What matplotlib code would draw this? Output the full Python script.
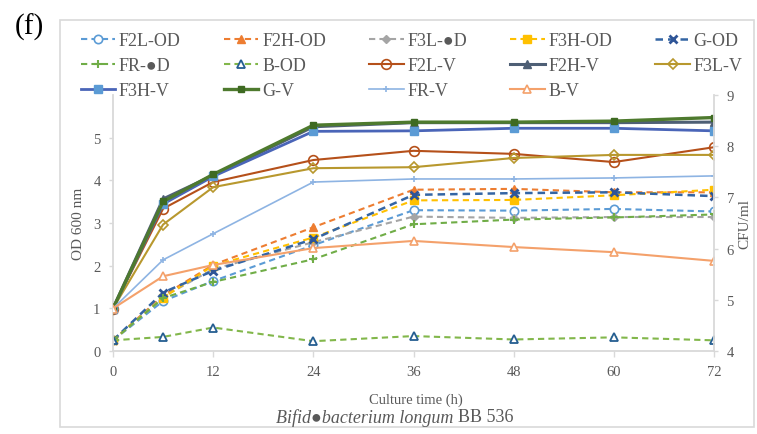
import matplotlib
matplotlib.use("Agg")
import matplotlib.pyplot as plt
from matplotlib.patches import Rectangle

plt.rcParams['font.family'] = ['Liberation Serif', 'DejaVu Sans']

# ---- data ----
times = [0, 6, 12, 24, 36, 48, 60, 72]
x_ticks = [0, 12, 24, 36, 48, 60, 72]
left_ticks = [0, 1, 2, 3, 4, 5]
right_ticks = [4, 5, 6, 7, 8, 9]

# OD600 (left axis)
F2L_OD = [0.25, 1.17, 1.64, 2.48, 3.30, 3.29, 3.33, 3.27]
F2H_OD = [0.25, 1.30, 2.02, 2.90, 3.78, 3.80, 3.72, 3.72]
F3L_OD = [0.25, 1.27, 1.92, 2.55, 3.15, 3.12, 3.14, 3.14]
F3H_OD = [0.25, 1.25, 2.00, 2.66, 3.53, 3.54, 3.65, 3.78]
G_OD = [0.25, 1.37, 1.88, 2.62, 3.66, 3.70, 3.72, 3.63]
FR_OD = [0.25, 1.24, 1.62, 2.15, 2.97, 3.08, 3.13, 3.20]
B_OD = [0.25, 0.33, 0.55, 0.23, 0.35, 0.27, 0.32, 0.25]

# viable counts (right axis, log CFU/ml)
F2L_V = [4.83, 6.78, 7.30, 7.73, 7.91, 7.85, 7.69, 7.98]
F2H_V = [4.83, 6.97, 7.43, 8.38, 8.46, 8.46, 8.46, 8.47]
F3L_V = [4.83, 6.47, 7.20, 7.57, 7.59, 7.77, 7.83, 7.83]
F3H_V = [4.83, 6.87, 7.41, 8.29, 8.30, 8.35, 8.35, 8.30]
G_V = [4.83, 6.92, 7.45, 8.41, 8.47, 8.47, 8.49, 8.56]
FR_V = [4.83, 5.78, 6.29, 7.30, 7.36, 7.36, 7.38, 7.42]
B_V = [4.83, 5.46, 5.68, 6.01, 6.15, 6.03, 5.93, 5.76]

GRAY_TXT = '#595959'
AXIS_C = '#D9D9D9'

fig = plt.figure(figsize=(7.57, 4.35), dpi=100)
W, H = 757, 435
ax = fig.add_axes([113 / W, 1 - 352 / H, (714 - 113) / W, (352 - 96) / H])
ax2 = ax.twinx()

dash = (3, 2)
h = {}
h['F2L-OD'], = ax.plot(times, F2L_OD, color='#5B9BD5', lw=1.5, dashes=dash, marker='o',
                       ms=6, mfc='white', mec='#5B9BD5', mew=1.2, label='F2L-OD')
h['F2H-OD'], = ax.plot(times, F2H_OD, color='#ED7D31', lw=1.5, dashes=dash, marker='^',
                       ms=6, mfc='#ED7D31', mec='#ED7D31', label='F2H-OD')
h['F3L-OD'], = ax.plot(times, F3L_OD, color='#A5A5A5', lw=1.5, dashes=dash, marker='D',
                       ms=4.5, mfc='#A5A5A5', mec='#A5A5A5', label='F3L-\u25cfD')
h['F3H-OD'], = ax.plot(times, F3H_OD, color='#FFC000', lw=1.5, dashes=dash, marker='s',
                       ms=5.5, mfc='#FFC000', mec='#FFC000', label='F3H-OD')
h['G-OD'], = ax.plot(times, G_OD, color='#3465A4', lw=1.8, dashes=dash, marker='x',
                     ms=6, mec='#2F5597', mew=2, label='G-OD')
h['FR-OD'], = ax.plot(times, FR_OD, color='#70AD47', lw=1.5, dashes=dash, marker='+',
                      ms=6, mec='#70AD47', mew=1.5, label='FR-\u25cfD')
h['B-OD'], = ax.plot(times, B_OD, color='#82B74B', lw=1.5, dashes=dash, marker='^',
                     ms=6, mfc='white', mec='#255E91', mew=1.3, label='B-OD')

h['F2L-V'], = ax2.plot(times, F2L_V, color='#B5501A', lw=1.5, marker='o', ms=7,
                       mfc='none', mec='#B5501A', mew=1.2, label='F2L-V')
h['F2H-V'], = ax2.plot(times, F2H_V, color='#4E5F75', lw=2.2, marker='^', ms=6,
                       mfc='#4E5F75', mec='#4E5F75', label='F2H-V')
h['F3L-V'], = ax2.plot(times, F3L_V, color='#B8982E', lw=1.5, marker='D', ms=5,
                       mfc='none', mec='#B8982E', mew=1.2, label='F3L-V')
h['F3H-V'], = ax2.plot(times, F3H_V, color='#4A65B8', lw=2.0, marker='s', ms=6,
                       mfc='#5B9BD5', mec='#5B9BD5', label='F3H-V')
h['G-V'], = ax2.plot(times, G_V, color='#4E7A2E', lw=2.4, marker='s', ms=4,
                     mfc='#3E6A22', mec='#3E6A22', label='G-V')
h['FR-V'], = ax2.plot(times, FR_V, color='#8EB4E3', lw=1.2, marker='+', ms=5,
                      mec='#8EB4E3', mew=1.2, label='FR-V')
h['B-V'], = ax2.plot(times, B_V, color='#F4A16B', lw=1.5, marker='^', ms=6,
                     mfc='white', mec='#F4A16B', mew=1.2, label='B-V')

# axes styling
ax.set_xlim(0, 72)
ax.set_ylim(0, 6)
ax.set_xticks(x_ticks)
ax.set_yticks(left_ticks)
ax2.set_ylim(4, 9)
ax2.set_yticks(right_ticks)

for a in (ax, ax2):
    for s in a.spines.values():
        s.set_visible(False)
ax.spines['left'].set_visible(True)
ax.spines['bottom'].set_visible(True)
ax2.spines['right'].set_visible(True)
for s in (ax.spines['left'], ax.spines['bottom'], ax2.spines['right']):
    s.set_color(AXIS_C)
    s.set_linewidth(1.3)

ax.tick_params(axis='x', colors=AXIS_C, labelcolor=GRAY_TXT, labelsize=10.5,
               length=4, width=1, direction='out', pad=6)
ax.tick_params(axis='y', colors=AXIS_C, labelcolor=GRAY_TXT, labelsize=10.5,
               length=3, width=1, direction='out', pad=6)
ax2.tick_params(axis='y', colors=AXIS_C, labelcolor=GRAY_TXT, labelsize=10.5,
                length=3, width=1, direction='out', pad=6)

ax.set_ylabel('OD 600 nm', fontsize=11, color=GRAY_TXT, labelpad=6)
ax2.set_ylabel('CFU/ml', fontsize=11, color=GRAY_TXT, labelpad=3)

fig.text(416 / W, 1 - 400 / H, 'Culture time (h)', ha='center', va='center',
         fontsize=10.5, color=GRAY_TXT)
fig.text(453 / W, 1 - 418 / H, 'Bifid\u25cfbacterium longum', ha='right', va='center',
         fontsize=13, color=GRAY_TXT, style='italic')
fig.text(458 / W, 1 - 418 / H, 'BB 536', ha='left', va='center',
         fontsize=13, color=GRAY_TXT)

fig.text(15 / W, 1 - 27 / H, '(f)', ha='left', va='center', fontsize=21, color='black')

# chart frame
fig.patches.append(Rectangle((60 / W, 1 - 428 / H), (754 - 60) / W, (428 - 21) / H,
                             transform=fig.transFigure, fill=False, ec=AXIS_C, lw=1.2))

order = ['F2L-OD', 'FR-OD', 'F3H-V', 'F2H-OD', 'B-OD', 'G-V', 'F3L-OD', 'F2L-V',
         'FR-V', 'F3H-OD', 'F2H-V', 'B-V', 'G-OD', 'F3L-V']
handles = [h[k] for k in order]
leg = fig.legend(handles, [x.get_label() for x in handles], ncol=5, loc='upper left',
                 bbox_to_anchor=(81 / W, 1 - 33 / H), frameon=False, fontsize=13,
                 borderaxespad=0, borderpad=0, handlelength=1.9, handletextpad=0.2,
                 columnspacing=2.4, labelspacing=0.45, labelcolor=GRAY_TXT)

fig.savefig('out.png', dpi=100)
